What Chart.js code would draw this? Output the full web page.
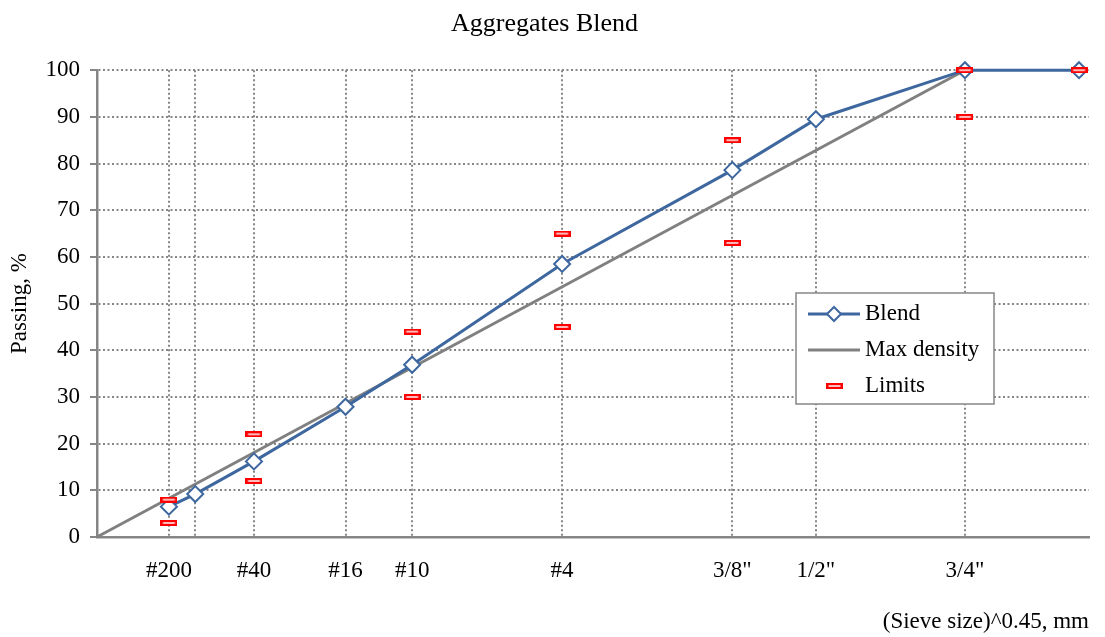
<!DOCTYPE html>
<html>
<head>
<meta charset="utf-8">
<script src="https://cdn.jsdelivr.net/npm/chart.js@4.4.1/dist/chart.umd.min.js"></script>
<style>
  html, body { margin: 0; padding: 0; background: #fff; }
  #wrap { width: 1105px; height: 637px; }
</style>
</head>
<body>
<div id="wrap"><canvas id="chart" width="1105" height="637"></canvas></div>
<script>
// Sieve sizes (mm) and their names
const sieveNames = ['#200', '#100', '#40', '#16', '#10', '#4', '3/8"', '1/2"', '3/4"', '1"'];
const sieveMm = [0.075, 0.15, 0.425, 1.18, 2.0, 4.75, 9.5, 12.5, 19.0, 25.0];

// Percent passing of the blend at each sieve
const blendPassing = [6.5, 9.2, 16.2, 27.9, 36.9, 58.5, 78.6, 89.5, 100, 100];

// Specification limits (null where no limit applies)
const limitLow = [3, null, 12, null, 30, 45, 63, null, 90, 100];
const limitHigh = [8, null, 22, null, 44, 65, 85, null, 100, 100];

// Maximum density line: from the origin to 100 % at the nominal maximum size
const maxDensityMm = [0, 19.0];
const maxDensityPassing = [0, 100];

// Labels for the vertical grid lines (the first nine sieves)
const xTickLabels = ['#200', '', '#40', '#16', '#10', '#4', '3/8"', '1/2"', '3/4"'];

const EXPONENT = 0.45;
const pow = d => Math.pow(d, EXPONENT);

const FONT = 'Liberation Serif, Times New Roman, serif';
const GRID = '#868686';
const BLUE = '#3d679e';

// Red dash marker used for the limits
const limitMark = document.createElement('canvas');
limitMark.width = 17; limitMark.height = 6;
(() => {
  const g = limitMark.getContext('2d');
  g.fillStyle = '#ff0000';
  g.fillRect(0, 0, 17, 6);
  g.fillStyle = '#ffe8e8';
  g.fillRect(2.5, 2.2, 12, 1.6);
})();

const blendPoints = sieveMm.map((d, i) => ({ x: pow(d), y: blendPassing[i] }));
const maxDensityPoints = maxDensityMm.map((d, i) => ({ x: pow(d), y: maxDensityPassing[i] }));
const limitPoints = [];
sieveMm.forEach((d, i) => {
  if (limitLow[i] !== null) limitPoints.push({ x: pow(d), y: limitLow[i] });
  if (limitHigh[i] !== null) limitPoints.push({ x: pow(d), y: limitHigh[i] });
});
const gridPositions = sieveMm.slice(0, xTickLabels.length).map(pow);

// Legend box drawn inside the plot area
const insideLegend = {
  id: 'insideLegend',
  afterDraw(chart) {
    const ctx = chart.ctx;
    const x0 = 796, y0 = 293, w = 198, h = 111;
    ctx.save();
    ctx.fillStyle = '#fff';
    ctx.fillRect(x0, y0, w, h);
    ctx.strokeStyle = GRID;
    ctx.lineWidth = 1.5;
    ctx.strokeRect(x0, y0, w, h);

    const rows = [y0 + 21, y0 + 57, y0 + 93];
    const sx0 = x0 + 12, sx1 = x0 + 64, tx = x0 + 69;

    // Blend
    ctx.strokeStyle = BLUE; ctx.lineWidth = 3;
    ctx.beginPath(); ctx.moveTo(sx0, rows[0]); ctx.lineTo(sx1, rows[0]); ctx.stroke();
    const cx = (sx0 + sx1) / 2, r = 7;
    ctx.fillStyle = '#fff'; ctx.lineWidth = 2;
    ctx.beginPath();
    ctx.moveTo(cx, rows[0] - r); ctx.lineTo(cx + r, rows[0]);
    ctx.lineTo(cx, rows[0] + r); ctx.lineTo(cx - r, rows[0]); ctx.closePath();
    ctx.fill(); ctx.stroke();

    // Max density
    ctx.strokeStyle = '#808080'; ctx.lineWidth = 3;
    ctx.beginPath(); ctx.moveTo(sx0, rows[1]); ctx.lineTo(sx1, rows[1]); ctx.stroke();

    // Limits
    ctx.drawImage(limitMark, Math.round(cx - limitMark.width / 2), Math.round(rows[2] - limitMark.height / 2));

    ctx.fillStyle = '#000';
    ctx.font = '23px ' + FONT;
    ctx.textBaseline = 'middle';
    ctx.textAlign = 'left';
    ctx.fillText('Blend', tx, rows[0]);
    ctx.fillText('Max density', tx, rows[1]);
    ctx.fillText('Limits', tx, rows[2]);
    ctx.restore();
  }
};

new Chart(document.getElementById('chart'), {
  type: 'scatter',
  data: {
    datasets: [
      {
        label: 'Limits',
        data: limitPoints,
        showLine: false,
        clip: false,
        pointStyle: limitMark,
        pointRadius: 8,
        pointHoverRadius: 8
      },
      {
        label: 'Blend',
        data: blendPoints,
        showLine: true,
        clip: false,
        borderColor: BLUE,
        borderWidth: 3,
        pointStyle: 'rectRot',
        pointRadius: 8,
        pointHoverRadius: 8,
        pointBorderWidth: 2,
        pointBorderColor: BLUE,
        pointBackgroundColor: '#fff'
      },
      {
        label: 'Max density',
        data: maxDensityPoints,
        showLine: true,
        clip: false,
        borderColor: '#808080',
        borderWidth: 3,
        pointRadius: 0,
        pointHoverRadius: 0
      }
    ]
  },
  options: {
    responsive: false,
    animation: false,
    devicePixelRatio: 1,
    layout: { padding: { left: 0, right: 16, top: 0, bottom: 0 } },
    plugins: {
      legend: { display: false },
      tooltip: { enabled: false },
      title: {
        display: true,
        text: 'Aggregates Blend',
        color: '#000',
        font: { family: FONT, size: 26, weight: 'normal' },
        padding: { top: 9, bottom: 30 }
      }
    },
    scales: {
      x: {
        type: 'linear',
        min: 0,
        max: 4.3,
        afterFit(scale) { scale.height = 100; },
        afterBuildTicks(scale) {
          scale.ticks = gridPositions.map(v => ({ value: v }));
        },
        ticks: {
          autoSkip: false,
          maxRotation: 0,
          minRotation: 0,
          padding: 20,
          color: '#000',
          font: { family: FONT, size: 23 },
          callback: (v, i) => xTickLabels[i]
        },
        grid: {
          drawTicks: false,
          color: GRID,
          lineWidth: 2
        },
        border: { display: true, color: GRID, width: 2.5, dash: [2, 2.5] },
        title: {
          display: true,
          text: '(Sieve size)^0.45, mm',
          align: 'end',
          color: '#000',
          font: { family: FONT, size: 23 },
          padding: { top: 0, bottom: 1 }
        }
      },
      y: {
        min: 0,
        max: 100,
        afterFit(scale) { scale.width = 97; },
        ticks: {
          stepSize: 10,
          padding: 10,
          color: '#000',
          font: { family: FONT, size: 23 }
        },
        grid: {
          color: c => (c.tick && c.tick.value === 0) ? 'rgba(0,0,0,0)' : GRID,
          lineWidth: 2,
          drawTicks: true,
          tickLength: 7,
          tickColor: GRID,
          tickWidth: 2,
          tickBorderDash: []
        },
        border: { display: true, color: GRID, width: 2.5, dash: [2, 2.5] },
        title: {
          display: true,
          text: 'Passing, %',
          color: '#000',
          font: { family: FONT, size: 23 },
          padding: { top: 6, bottom: 0 }
        }
      }
    }
  },
  plugins: [insideLegend]
});
</script>
</body>
</html>
